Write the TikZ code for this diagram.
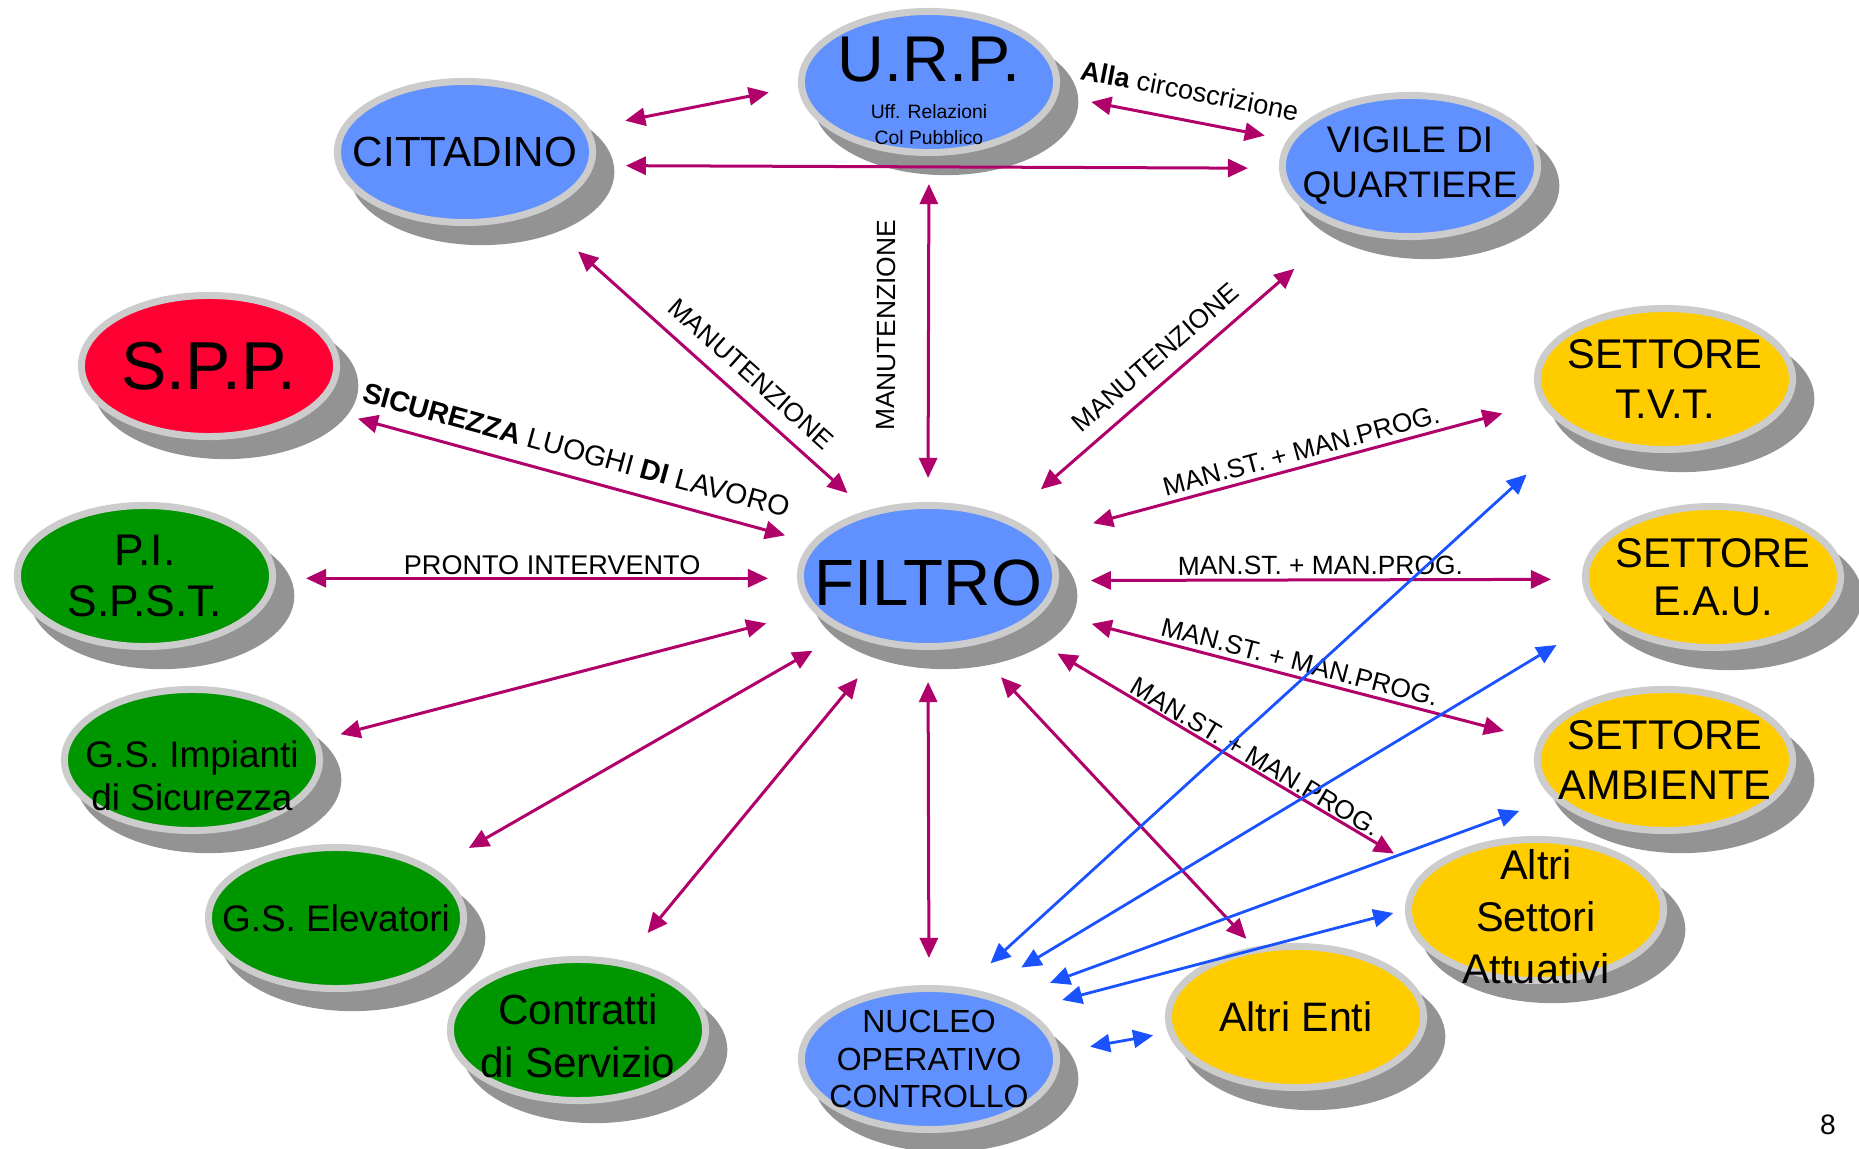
\documentclass[tikz,border=0pt]{standalone}
\usepackage{fontspec}
\setmainfont{Liberation Sans}
\usetikzlibrary{shapes.geometric, arrows.meta, shadows}
\definecolor{nodeblue}{HTML}{6191FF}
\definecolor{nodered}{HTML}{FF0033}
\definecolor{nodegreen}{HTML}{009600}
\definecolor{nodeyellow}{HTML}{FFCC00}
\definecolor{ringgray}{HTML}{CCCCCC}
\definecolor{shadowgray}{HTML}{939393}
\definecolor{linkmag}{HTML}{B0006A}
\definecolor{linkblue}{HTML}{1A52FF}
\newcommand{\setfs}[2]{\fontsize{#1}{#2}\selectfont}

\begin{document}
\begin{tikzpicture}[x=0.01cm, y=-0.01cm, >={Triangle[length=0.2cm, width=0.18cm]},
  bubble/.style={ellipse, fill=#1, draw=ringgray, line width=0.07cm,
    minimum width=2.55cm, minimum height=1.41cm, inner sep=-2cm, align=center,
    drop shadow={shadow xshift=0.16cm, shadow yshift=-0.19cm, shadow scale=1.04,
      fill=shadowgray, opacity=1}},
  link/.style={<->, draw=linkmag, line width=0.03cm},
  nlink/.style={<->, draw=linkblue, line width=0.028cm},
  ends/.style 2 args={shorten <=#1, shorten >=#2},
  lab/.style={sloped, inner sep=0pt, outer sep=0pt, font=\setfs{7.5}{9}}]
\useasboundingbox (0,0) rectangle (1859,1149);

% Bubbles
\node[bubble=nodeblue] (urp) at (929,82) {\setfs{5.5}{7.4}\begin{tabular}{@{}c@{}}{\setfs{18.4}{20}\rule{0pt}{20pt}U.R.P.}\\[3pt]Uff. Relazioni\\Col Pubblico\end{tabular}};
\node[bubble=nodeblue, font=\setfs{12}{14}] (cit) at (465,152) {CITTADINO};
\node[bubble=nodeblue, font=\setfs{10.5}{12.8}] (vig) at (1410,166) {VIGILE DI\\QUARTIERE};
\node[bubble=nodered, font=\setfs{19.3}{22}] (spp) at (209,366) {S.P.P.};
\node[bubble=nodegreen, font=\setfs{12.6}{14.5}] (pi) at (145,576) {P.I.\\S.P.S.T.};
\node[bubble=nodegreen, font=\setfs{10.5}{12.2}] (imp) at (192,760) {\rule{0pt}{0.59cm}G.S. Impianti\\di Sicurezza};
\node[bubble=nodegreen, font=\setfs{10.5}{12.6}] (ele) at (336,918) {G.S. Elevatori};
\node[bubble=nodegreen, font=\setfs{12}{15.1}] (con) at (578,1030) {\rule{0pt}{0.43cm}Contratti\\di Servizio};
\node[bubble=nodeblue, font=\setfs{18.6}{20}] (fil) at (928,576) {\rule{0pt}{0.6cm}FILTRO};
\node[bubble=nodeblue, font=\setfs{9.1}{10.7}] (nuc) at (929,1059) {NUCLEO\\OPERATIVO\\CONTROLLO};
\node[bubble=nodeyellow, font=\setfs{11.7}{14}] (ent) at (1296,1017) {Altri Enti};
\node[bubble=nodeyellow, font=\setfs{11.8}{14.8}] (ast) at (1536,910) {\rule{0pt}{0.43cm}Altri\\Settori\\Attuativi};
\node[bubble=nodeyellow, font=\setfs{11.8}{14.2}] (tvt) at (1665,379) {SETTORE\\T.V.T.};
\node[bubble=nodeyellow, font=\setfs{11.8}{13.7}] (eau) at (1713,577) {SETTORE\\E.A.U.};
\node[bubble=nodeyellow, font=\setfs{11.8}{14.2}] (amb) at (1665,760) {SETTORE\\AMBIENTE};
\node[font=\setfs{8}{10}] (pagenum) at (1828,1125) {8};

% Links
\draw[link, ends={0.37cm}{0.30cm}] (cit.11) -- (urp.182);
\draw[link, ends={0.32cm}{0.31cm}] (cit.-6.4) -- (vig.181.4);
\draw[link, ends={0.34cm}{0.23cm}] (urp.-6.3) -- (vig.168.8)
  node[lab, pos=0.55, above=0.2cm, font=\setfs{7.7}{9}] {{\bfseries Alla} circoscrizione};
\draw[link, ends={0.24cm}{0.28cm}] (fil.90) -- (urp.270)
  node[lab, pos=0.51, above=0.33cm] {MANUTENZIONE};
\draw[link, ends={0.56cm}{0.26cm}] (cit.-41) -- (fil.133.2)
  node[lab, pos=0.6, above=0.15cm] {MANUTENZIONE};
\draw[link, ends={0.43cm}{0.61cm}] (fil.36.1) -- (vig.222.4)
  node[lab, pos=0.49, above=0.15cm] {MANUTENZIONE};
\draw[link, ends={0.42cm}{0.27cm}] (spp.-21.2) -- (fil.164.4)
  node[lab, pos=0.51, above=0.17cm, font=\setfs{8.1}{9}] {{\bfseries SICUREZZA} LUOGHI {\bfseries DI} LAVORO};
\draw[link, ends={0.30cm}{0.29cm}] (pi.-1.4) -- (fil.181.4)
  node[lab, pos=0.53, above=0.04cm, font=\setfs{7.7}{9}] {PRONTO INTERVENTO};
\draw[link, ends={0.48cm}{0.23cm}] (fil.197.4) -- (imp.9.6);
\draw[link, ends={0.36cm}{0.41cm}] (fil.214.3) -- (ele.27.9);
\draw[link, ends={0.42cm}{0.36cm}] (fil.238.5) -- (con.56.3);
\draw[link, ends={0.32cm}{0.27cm}] (fil.270) -- (nuc.90);
\draw[link, ends={0.43cm}{0.11cm}] (fil.302.7) -- (ent.121.5);
\draw[link, ends={0.55cm}{0.40cm}] (fil.19.6) -- (tvt.191.9)
  node[lab, pos=0.53, above=0.07cm] {MAN.ST. + MAN.PROG.};
\draw[link, ends={0.32cm}{0.31cm}] (fil.358.6) -- (eau.181)
  node[lab, pos=0.5, above=0.05cm] {MAN.ST. + MAN.PROG.};
\draw[link, ends={0.50cm}{0.36cm}] (fil.343) -- (amb.171.2)
  node[lab, pos=0.51, above=0.06cm] {MAN.ST. + MAN.PROG.};
\draw[link, ends={0.46cm}{0.35cm}] (fil.329.9) -- (ast.161.8)
  node[lab, pos=0.57, above=0.03cm] {MAN.ST. + MAN.PROG.};

% Nucleo links
\draw[nlink, ends={0.36cm}{0.63cm}] (nuc.64.8) -- (tvt.210.8);
\draw[nlink, ends={0.46cm}{0.54cm}] (nuc.52.1) -- (eau.200.6);
\draw[nlink, ends={0.47cm}{0.36cm}] (nuc.38.2) -- (amb.199.9);
\draw[nlink, ends={0.37cm}{0.12cm}] (nuc.27.4) -- (ast.180);
\draw[nlink, ends={0.31cm}{0.15cm}] (nuc.3.2) -- (ent.187.2);
\end{tikzpicture}
\end{document}
